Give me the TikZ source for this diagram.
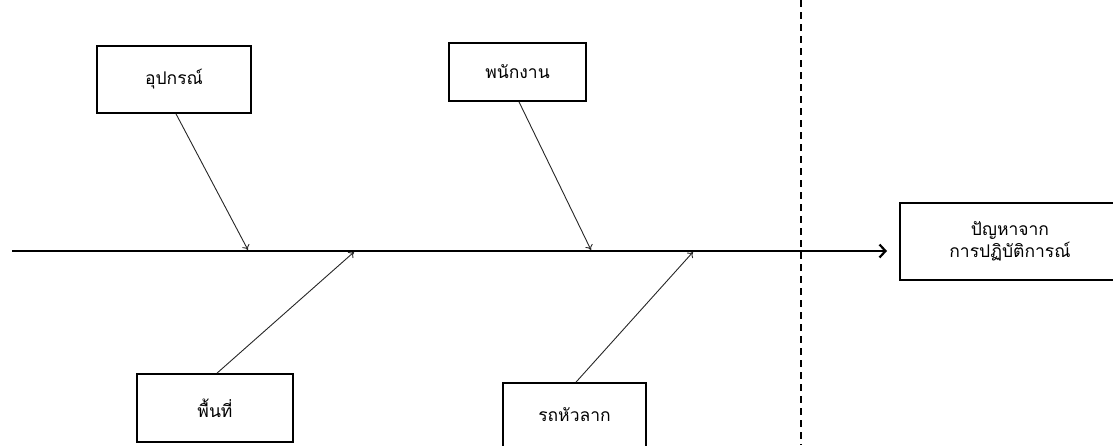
\documentclass[tikz,border=0pt]{standalone}
\usepackage{fontspec}
\newfontfamily\thaifont[Script=Thai]{Loma}
\usetikzlibrary{arrows.meta}
\begin{document}
\begin{tikzpicture}[x=1pt,y=-1pt,
  causebox/.style={draw=black,line width=1.7pt,fill=white,inner sep=0pt,
    font=\thaifont\fontsize{17.5}{22}\selectfont,align=center},
  bone/.style={line width=0.9pt,draw=black!85,-{To[length=5pt,width=8pt]}},
  spine/.style={line width=2.6pt,-{Straight Barb[length=6pt,width=13pt,line width=2.2pt]}},
  divider/.style={line width=1.4pt,dash pattern=on 7pt off 5pt}]
\useasboundingbox (0,0) rectangle (1113,445);
\clip (0,0) rectangle (1113,445);
% dashed divider
\coordinate (dtop) at (801,0);
\coordinate (dbot) at (801,445);
\draw[divider] (dtop) -- (dbot);
% spine
\coordinate (sstart) at (12,251);
\coordinate (send) at (887,251);
\draw[spine] (sstart) -- (send);
% boxes
\node[causebox,minimum width=154pt,minimum height=67pt] (equip) at (174,79.5) {อุปกรณ์};
\node[causebox,minimum width=137pt,minimum height=58pt] (staff) at (517.5,72) {พนักงาน};
\node[causebox,minimum width=156pt,minimum height=68pt] (area) at (215,408) {พื้นที่};
\node[causebox,minimum width=143pt,minimum height=64pt] (truck) at (574.5,415) {รถหัวลาก};
\node[causebox,minimum width=220pt,minimum height=77pt] (problem) at (1010,241.5) {ปัญหาจาก\\การปฏิบัติการณ์};
% arrow targets on spine
\coordinate (t1) at (248,250);
\coordinate (t2) at (354,252);
\coordinate (t3) at (591,250);
\coordinate (t4) at (693,252);
% bones
\draw[bone] ([xshift=2pt]equip.south) -- (t1);
\draw[bone] ([xshift=1.5pt]staff.south) -- (t3);
\draw[bone] ([xshift=2pt]area.north) -- (t2);
\draw[bone] ([xshift=1.5pt]truck.north) -- (t4);
\end{tikzpicture}
\end{document}
